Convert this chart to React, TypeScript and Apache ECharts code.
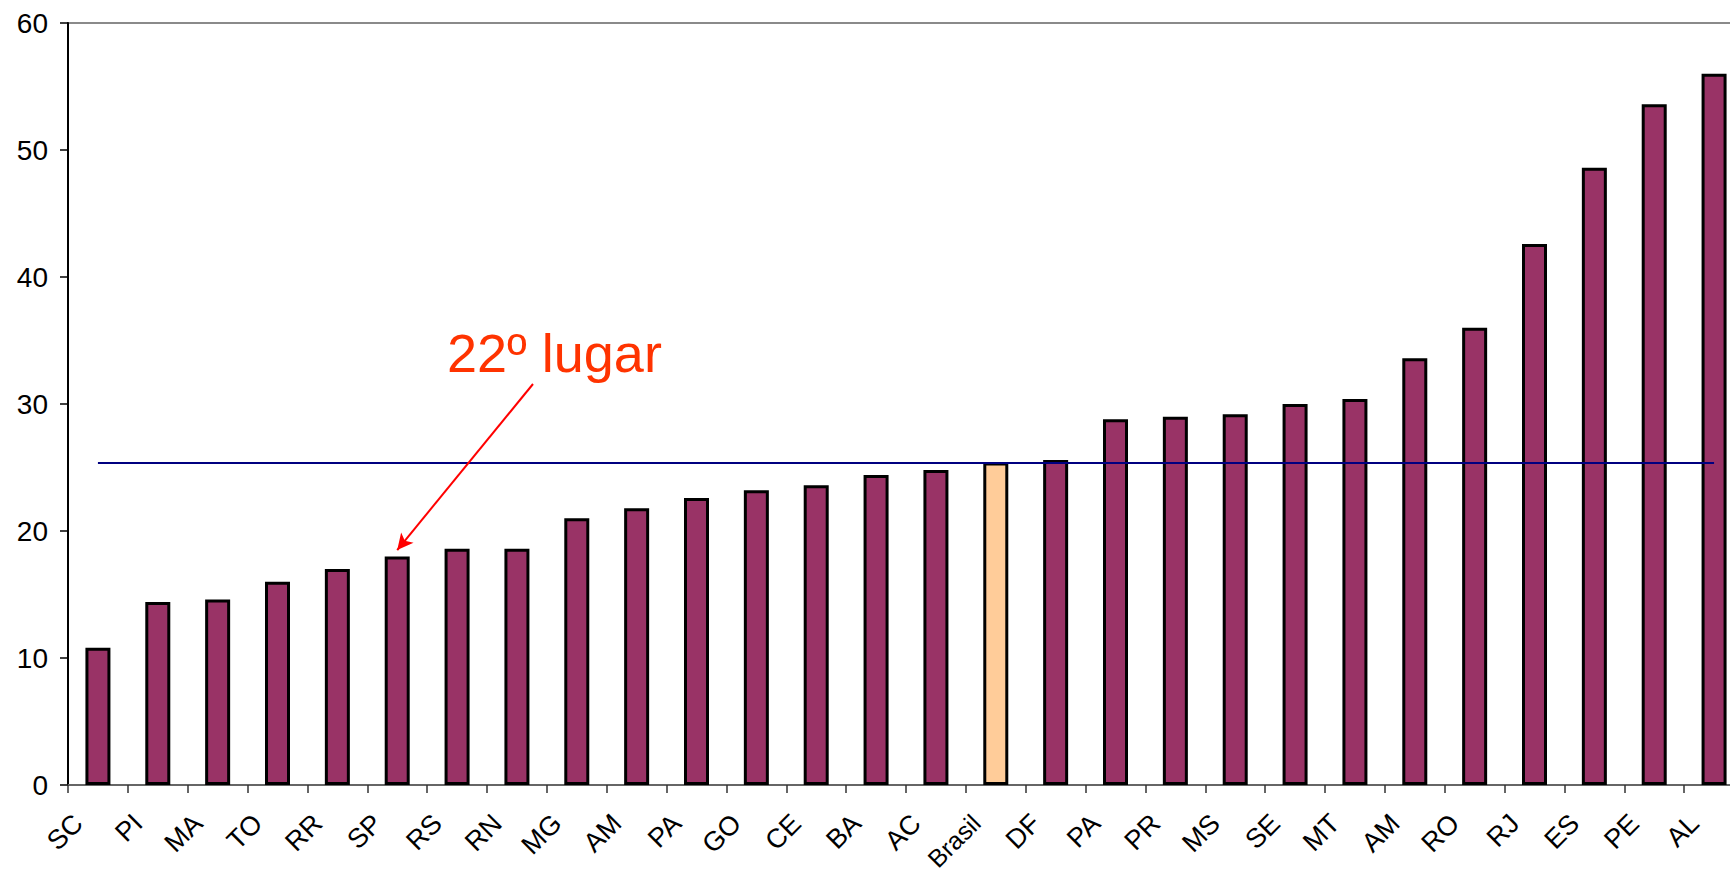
import React, { useEffect, useRef } from "react";
import * as echarts from "echarts";

const categories = ["SC","PI","MA","TO","RR","SP","RS","RN","MG","AM","PA","GO","CE","BA","AC","Brasil","DF","PA","PR","MS","SE","MT","AM","RO","RJ","ES","PE","AL"];
const values = [10.8,14.4,14.6,16.0,17.0,18.0,18.6,18.6,21.0,21.8,22.6,23.2,23.6,24.4,24.8,25.4,25.6,28.8,29.0,29.2,30.0,30.4,33.6,36.0,42.6,48.6,53.6,56.0];
const yTicks = [0, 10, 20, 30, 40, 50, 60];
const brasilAverage = 25.4;
const highlightCategory = "Brasil";
const annotationText = "22º lugar";
const annotationIndex = 5; // SP
const annotationTipValue = 18.5;

const FONT = "'Liberation Sans', Arial, sans-serif";

export default function App() {
  const ref = useRef<HTMLDivElement>(null);
  useEffect(() => {
    if (!ref.current) return;
    const chart = echarts.init(ref.current, undefined, { renderer: "svg" });
    const hi = categories.indexOf(highlightCategory);
    chart.setOption({
      animation: false,
      backgroundColor: "#ffffff",
      grid: {
        left: 68, top: 23, right: -14, bottom: 90,
        outerBoundsMode: "none",
        containLabel: false,
        show: true, borderColor: "#8a8a8a", borderWidth: 2,
      },
      xAxis: {
        type: "category",
        data: categories,
        axisLine: { lineStyle: { color: "#666", width: 2 } },
        axisTick: { show: true, length: 8, lineStyle: { color: "#333", width: 1.5 } },
        axisLabel: {
          rotate: 45,
          interval: 0,
          fontSize: 27,
          fontFamily: FONT,
          color: "#000",
          margin: 14,
          padding: [0, 28, 0, 0],
          formatter: (v: string) => (v === highlightCategory ? `{s|${v}}` : v),
          rich: {
            s: { fontSize: 25, fontFamily: FONT, color: "#000" },
          },
        },
      },
      yAxis: {
        type: "value",
        min: yTicks[0],
        max: yTicks[yTicks.length - 1],
        interval: 10,
        splitLine: { show: false },
        axisLine: { show: true, lineStyle: { color: "#000", width: 2 } },
        axisTick: { show: true, length: 8, lineStyle: { color: "#000", width: 1.5 } },
        axisLabel: { fontSize: 28, fontFamily: FONT, color: "#000", margin: 20 },
      },
      graphic: [
        {
          type: "text",
          left: 447,
          top: 326,
          style: {
            text: annotationText,
            fill: "#FF3300",
            font: `54px ${FONT}`,
          },
        },
      ],
      series: [
        {
          type: "bar",
          barWidth: 25,
          data: values.map((v, i) => ({
            value: v,
            itemStyle: i === hi ? { color: "#FFCC99" } : undefined,
          })),
          itemStyle: { color: "#993366", borderColor: "#000", borderWidth: 3 },
          markLine: {
            silent: true,
            animation: false,
            label: { show: false },
            symbol: "none",
            data: [
              [
                { coord: [0, brasilAverage], symbol: "none", lineStyle: { color: "#000080", width: 2, type: "solid" } },
                { coord: [categories.length - 1, brasilAverage], symbol: "none" },
              ],
              [
                { x: 533, y: 384, symbol: "none", lineStyle: { color: "#FF0000", width: 2, type: "solid" } },
                { coord: [annotationIndex, annotationTipValue], symbol: "arrow", symbolSize: [12, 16] },
              ],
            ],
          },
        },
      ],
    });
    return () => chart.dispose();
  }, []);
  return (
    <div
      ref={ref}
      style={{ position: "fixed", left: 0, top: 0, width: 1730, height: 875, background: "#fff" }}
    />
  );
}
